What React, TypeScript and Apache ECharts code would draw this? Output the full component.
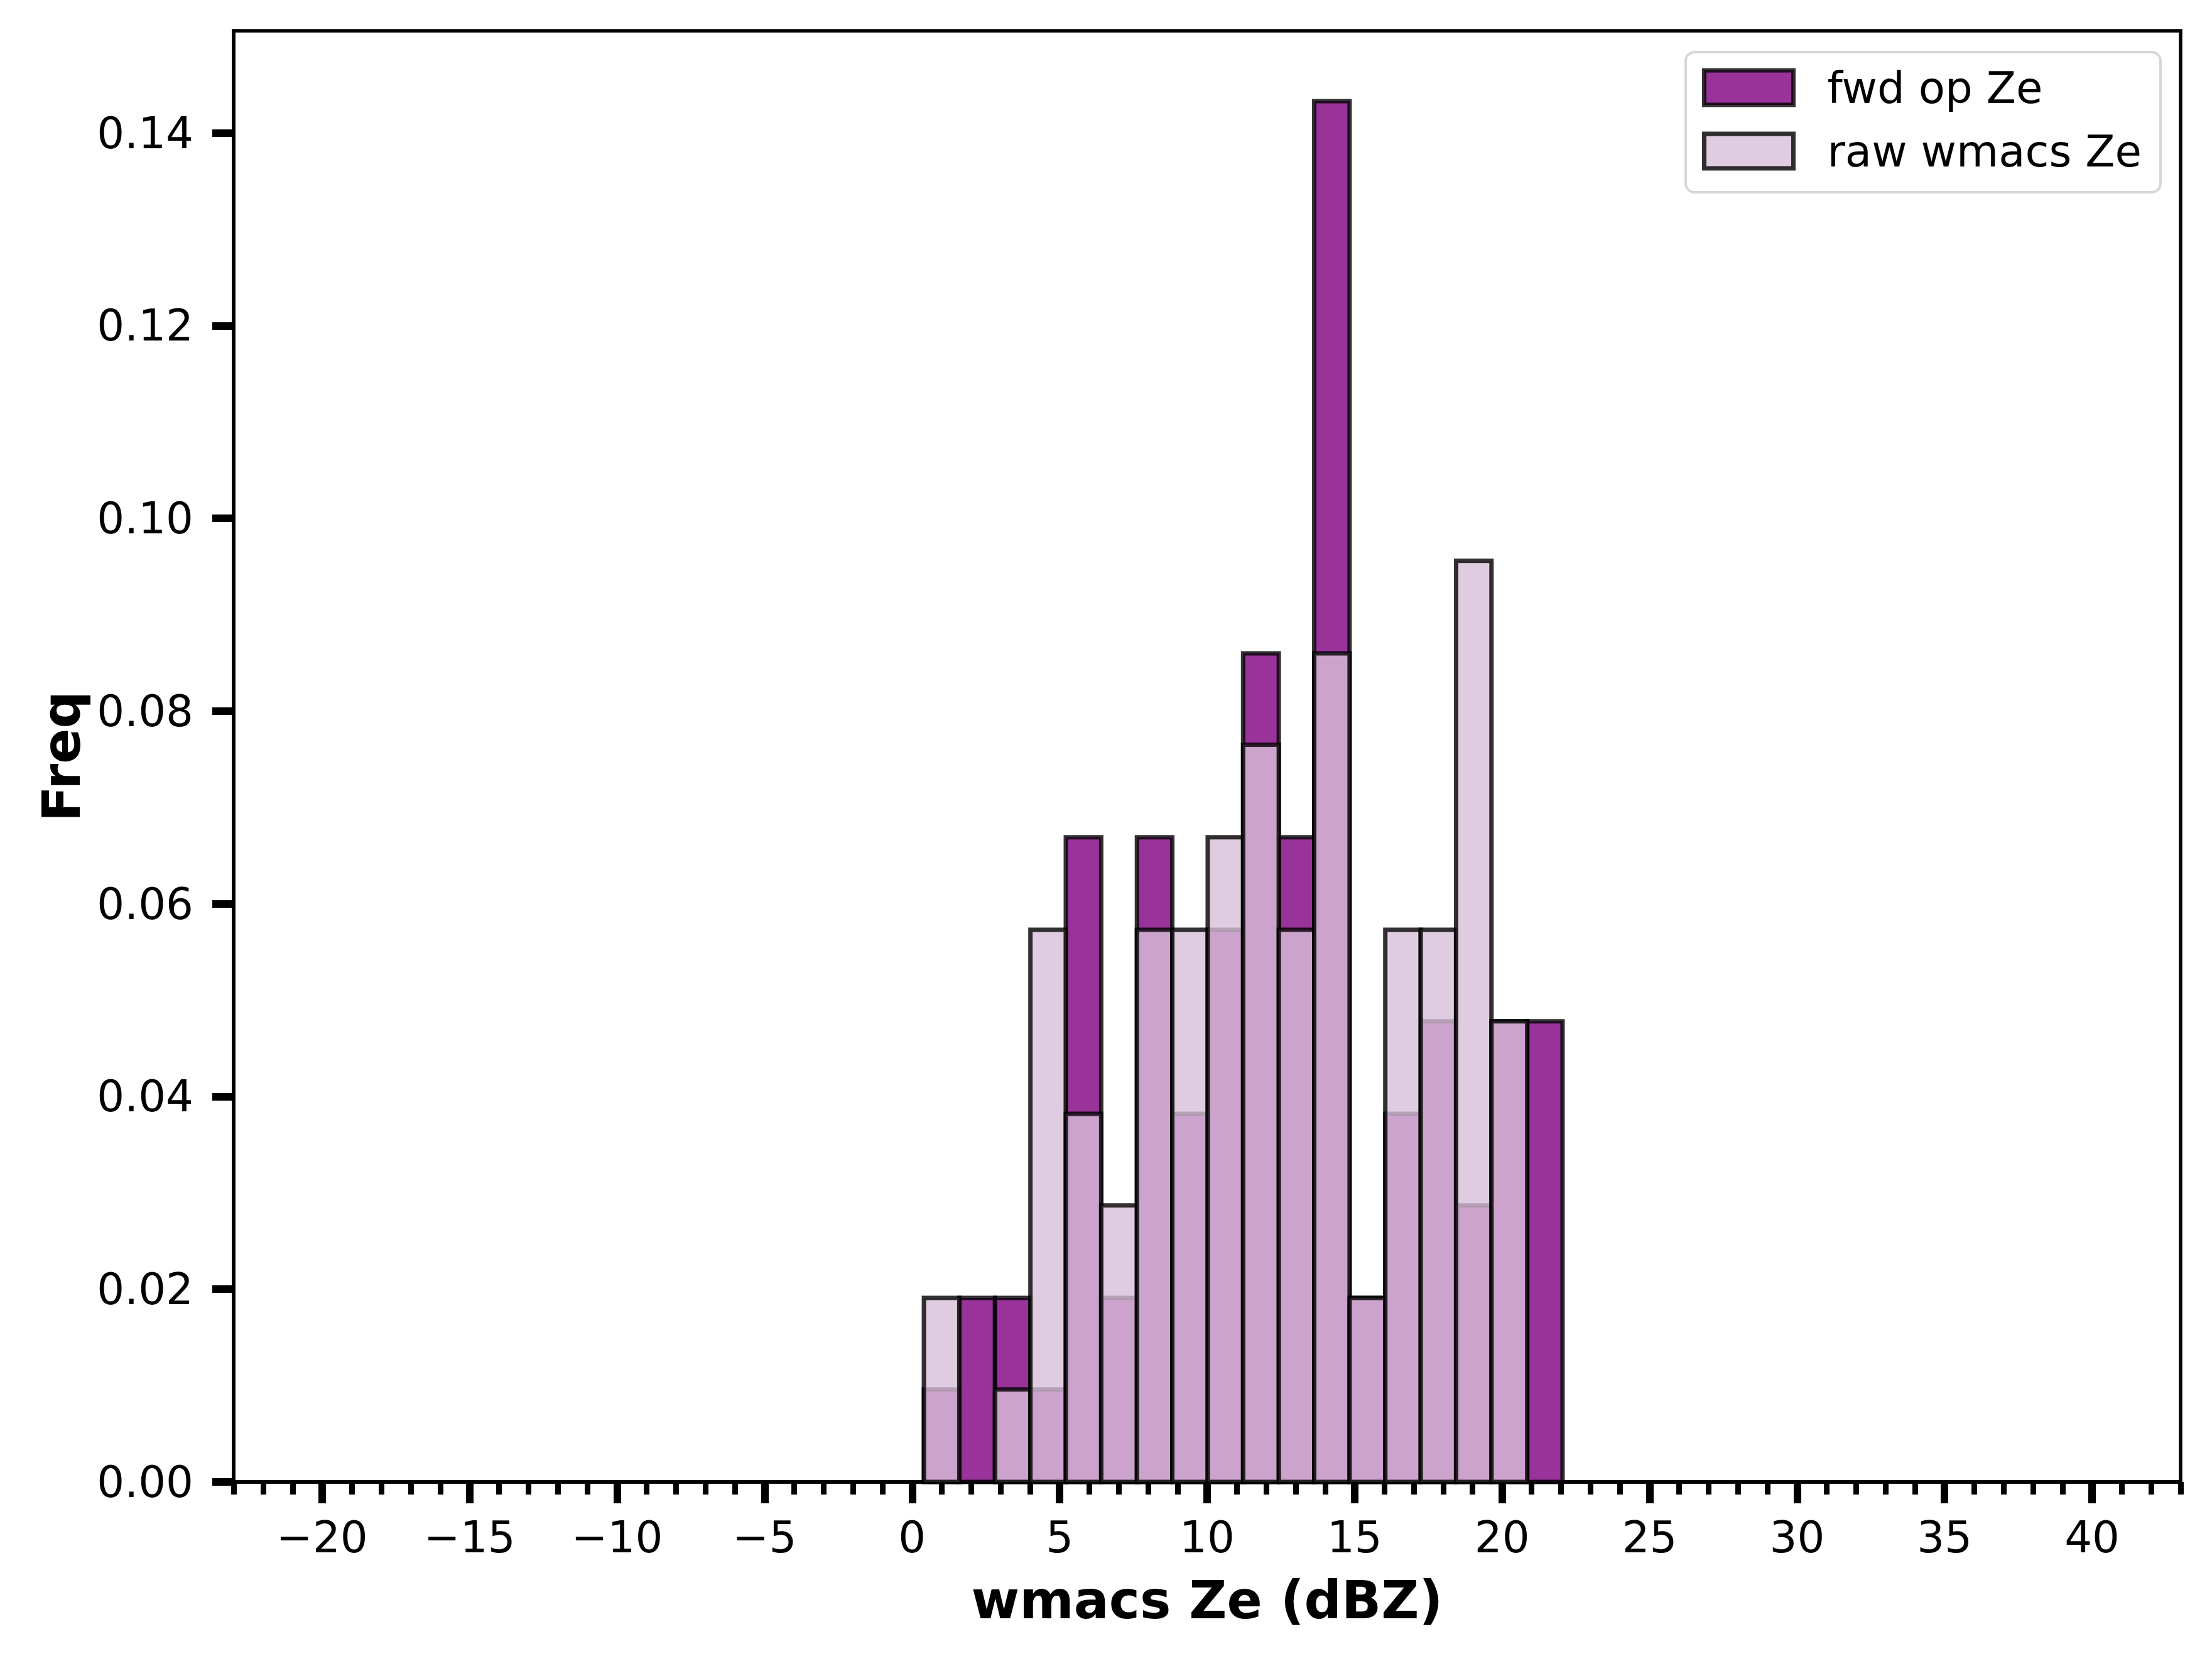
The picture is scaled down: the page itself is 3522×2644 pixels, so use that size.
import React, { useEffect, useRef } from "react";
import * as echarts from "echarts";

// Histogram bin edges (wmacs Ze, dBZ)
const binEdges = [0.40, 1.60, 2.81, 4.01, 5.21, 6.41, 7.62, 8.82, 10.02, 11.22, 12.43, 13.63, 14.83, 16.04, 17.24, 18.44, 19.64, 20.85, 22.05];
// Frequencies (density) per bin
const fwdFreq = [0.0096, 0.0191, 0.0191, 0.0096, 0.0669, 0.0191, 0.0669, 0.0382, 0.0573, 0.0860, 0.0669, 0.1433, 0.0191, 0.0382, 0.0478, 0.0287, 0.0478, 0.0478];
const rawFreq = [0.0191, 0, 0.0096, 0.0573, 0.0382, 0.0287, 0.0573, 0.0573, 0.0669, 0.0765, 0.0573, 0.0860, 0.0191, 0.0573, 0.0573, 0.0956, 0.0478, 0];
// Tick labels
const xTicks = [-20, -15, -10, -5, 0, 5, 10, 15, 20, 25, 30, 35, 40];
const yTicks = [0, 0.02, 0.04, 0.06, 0.08, 0.1, 0.12, 0.14];
const seriesNames = ["fwd op Ze", "raw wmacs Ze"];

const FWD = "rgba(128,0,128,0.8)";
const RAW = "rgba(216,191,216,0.8)";
const EDGE = "rgba(0,0,0,0.8)";
const FONT = "DejaVu Sans";

function toData(freq: number[]) {
  return freq
    .map((f, i) => [binEdges[i], binEdges[i + 1], f])
    .filter((d) => d[2] > 0);
}

function makeRender(fill: string) {
  return (params: any, api: any) => {
    const x0 = api.value(0);
    const x1 = api.value(1);
    const y = api.value(2);
    const p0 = api.coord([x0, 0]);
    const p1 = api.coord([x1, y]);
    return {
      type: "rect",
      shape: { x: p0[0], y: p1[1], width: p1[0] - p0[0], height: p0[1] - p1[1] },
      style: { fill, stroke: EDGE, lineWidth: 7 },
    };
  };
}

export default function App() {
  const ref = useRef<HTMLDivElement>(null);
  useEffect(() => {
    if (!ref.current) return;
    const chart = echarts.init(ref.current, null, { renderer: "svg" });
    const minus = (v: number) => String(v).replace("-", "\u2212");
    chart.setOption({
      animation: false,
      backgroundColor: "#fff",
      grid: {
        show: true,
        left: 372,
        right: 50,
        top: 49,
        bottom: 285,
        borderColor: "#000",
        borderWidth: 5.5,
        backgroundColor: "transparent",
      },
      legend: {
        orient: "vertical",
        left: 2684,
        top: 83,
        padding: [22, 30, 31, 26],
        itemGap: 32,
        itemWidth: 142,
        itemHeight: 55,
        backgroundColor: "rgba(255,255,255,0.8)",
        borderColor: "#d6d6d6",
        borderWidth: 4,
        borderRadius: 14,
        textStyle: {
          fontSize: 69,
          fontFamily: FONT,
          color: "#000",
          padding: [0, 0, 0, 49],
        },
        data: [
          { name: seriesNames[0], icon: "rect", itemStyle: { color: FWD, borderColor: EDGE, borderWidth: 7 } },
          { name: seriesNames[1], icon: "rect", itemStyle: { color: RAW, borderColor: EDGE, borderWidth: 7 } },
        ],
      },
      xAxis: [
        {
          type: "value",
          min: -23,
          max: 43,
          position: "bottom",
          axisLine: { show: true, onZero: false, lineStyle: { color: "#000", width: 5.5 } },
          axisTick: { show: true, length: 34, lineStyle: { color: "#000", width: 12 }, customValues: xTicks },
          axisLabel: {
            customValues: xTicks,
            formatter: (v: number) => minus(v),
            margin: 53,
            fontSize: 69,
            fontFamily: FONT,
            color: "#000",
          },
          splitLine: { show: false },
          name: "wmacs Ze (dBZ)",
          nameLocation: "middle",
          nameGap: 147,
          nameTextStyle: { fontSize: 83, fontWeight: "bold", fontFamily: FONT, color: "#000" },
        },
        {
          type: "value",
          min: -23,
          max: 43,
          interval: 1,
          position: "bottom",
          axisLine: { show: false, onZero: false },
          axisTick: { show: true, length: 20, lineStyle: { color: "#000", width: 9 } },
          axisLabel: { show: false },
          splitLine: { show: false },
        },
      ],
      yAxis: {
        type: "value",
        min: 0,
        max: 0.1506,
        position: "left",
        axisLine: { show: true, onZero: false, lineStyle: { color: "#000", width: 5.5 } },
        axisTick: { show: true, length: 34, lineStyle: { color: "#000", width: 12 }, customValues: yTicks },
        axisLabel: {
          customValues: yTicks,
          formatter: (v: number) => v.toFixed(2),
          margin: 64,
          fontSize: 69,
          fontFamily: FONT,
          color: "#000",
        },
        splitLine: { show: false },
        name: "Freq",
        nameLocation: "middle",
        nameGap: 232,
        nameRotate: 90,
        nameTextStyle: { fontSize: 83, fontWeight: "bold", fontFamily: FONT, color: "#000" },
      },
      series: [
        {
          name: seriesNames[0],
          type: "custom",
          xAxisIndex: 0,
          yAxisIndex: 0,
          renderItem: makeRender(FWD),
          itemStyle: { color: FWD, borderColor: EDGE, borderWidth: 7 },
          encode: { x: [0, 1], y: 2 },
          data: toData(fwdFreq),
          z: 2,
        },
        {
          name: seriesNames[1],
          type: "custom",
          xAxisIndex: 0,
          yAxisIndex: 0,
          renderItem: makeRender(RAW),
          itemStyle: { color: RAW, borderColor: EDGE, borderWidth: 7 },
          encode: { x: [0, 1], y: 2 },
          data: toData(rawFreq),
          z: 3,
        },
      ],
    });
    return () => chart.dispose();
  }, []);
  return (
    <div
      ref={ref}
      style={{ position: "absolute", left: 0, top: 0, width: 3522, height: 2644, background: "#fff" }}
    />
  );
}
